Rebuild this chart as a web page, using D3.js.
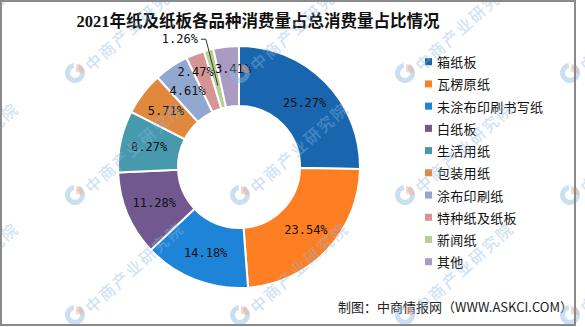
<!DOCTYPE html>
<html>
<head>
<meta charset="utf-8">
<script src="https://cdn.jsdelivr.net/npm/d3@7"></script>
<style>
  html, body { margin: 0; padding: 0; background: #fff; }
  svg { display: block; }
</style>
</head>
<body>
<svg id="chart" width="585" height="327"></svg>
<script>
// Paper and board consumption by grade, 2021 (share of total, %)
const categories = ["箱纸板", "瓦楞原纸", "未涂布印刷书写纸", "白纸板", "生活用纸",
                    "包装用纸", "涂布印刷纸", "特种纸及纸板", "新闻纸", "其他"];
const shares = [25.27, 23.54, 14.18, 11.28, 8.27, 5.71, 4.61, 2.47, 1.26, 3.41];
const palette = ["#1a66ae", "#fe7f23", "#1d84d7", "#715990", "#4799ae",
                 "#e0883b", "#91a8d0", "#d69494", "#b8ce93", "#a99bc1"];
const titleText = "2021年纸及纸板各品种消费量占总消费量占比情况";
const sourceText = "制图：中商情报网（WWW.ASKCI.COM）";
const watermarkText = "中商产业研究院";

const W = 585, H = 327;
const svg = d3.select("#chart");

svg.append("rect").attr("width", W).attr("height", H).attr("fill", "#fff");

// donut geometry
const cx = 239, cy = 167, rOuter = 121, rInner = 61, rLabel = 92;

const data = categories.map((c, i) => ({ name: c, value: shares[i] }));
const color = d3.scaleOrdinal().domain(categories).range(palette);

const pie = d3.pie().sort(null).value(d => d.value)
  .startAngle(0).endAngle(2 * Math.PI);
const arcs = pie(data);

const arc = d3.arc().innerRadius(rInner).outerRadius(rOuter);
const labelArc = d3.arc().innerRadius(rLabel).outerRadius(rLabel);

const g = svg.append("g").attr("transform", `translate(${cx},${cy})`);

g.selectAll("path.slice").data(arcs).join("path")
  .attr("class", "slice")
  .attr("d", arc)
  .attr("fill", d => color(d.data.name))
  .attr("stroke", "#fff")
  .attr("stroke-width", 2)
  .attr("stroke-linejoin", "round");

const fmt = v => v.toFixed(2) + "%";
const labelFont = "'DejaVu Sans Mono','Liberation Mono',monospace";

// small nudges so crowded labels do not collide
const nudge = { "特种纸及纸板": [-10, -9], "其他": [4, -7] };

const inside = arcs.filter(d => d.data.value >= 2);
const outside = arcs.filter(d => d.data.value < 2);

g.selectAll("text.inlabel").data(inside).join("text")
  .attr("class", "inlabel")
  .attr("transform", d => {
    const [x, y] = labelArc.centroid(d);
    const n = nudge[d.data.name] || [0, 0];
    return `translate(${x + n[0]},${y + n[1]})`;
  })
  .attr("text-anchor", "middle")
  .attr("dominant-baseline", "central")
  .attr("font-family", labelFont)
  .attr("font-size", 12)
  .attr("fill", "#111")
  .text(d => fmt(d.data.value));

// leader line + outside label for tiny slices
outside.forEach(d => {
  const mid = (d.startAngle + d.endAngle) / 2;
  const p = r => [r * Math.sin(mid), -r * Math.cos(mid)];
  const a = p(84), b = p(132);
  const c = [b[0] - 5, b[1]];
  g.append("polyline")
    .attr("points", [a, b, c].map(q => q.join(",")).join(" "))
    .attr("fill", "none")
    .attr("stroke", "#333")
    .attr("stroke-width", 1);
  g.append("text")
    .attr("x", c[0] - 3).attr("y", c[1])
    .attr("text-anchor", "end")
    .attr("dominant-baseline", "central")
    .attr("font-family", labelFont)
    .attr("font-size", 12)
    .attr("fill", "#111")
    .text(fmt(d.data.value));
});

// title
svg.append("text")
  .attr("x", 258).attr("y", 21)
  .attr("text-anchor", "middle")
  .attr("dominant-baseline", "central")
  .attr("font-family", "'Liberation Serif','Noto Sans CJK SC',serif")
  .attr("font-weight", "bold")
  .attr("font-size", 16.5)
  .attr("fill", "#111")
  .text(titleText);

// legend
const legendY = d3.scalePoint().domain(categories).range([61.7, 261.7]);
const legend = svg.append("g");
const item = legend.selectAll("g").data(categories).join("g")
  .attr("transform", d => `translate(425,${legendY(d)})`);
item.append("rect")
  .attr("x", 0).attr("y", -3.5).attr("width", 7).attr("height", 7)
  .attr("fill", d => color(d));
item.append("text")
  .attr("x", 12).attr("y", 0)
  .attr("dominant-baseline", "central")
  .attr("font-family", "'Noto Sans CJK SC',sans-serif")
  .attr("font-size", 13)
  .attr("letter-spacing", 0.3)
  .attr("fill", "#111")
  .text(d => d);

// source note
svg.append("text")
  .attr("x", 573).attr("y", 306)
  .attr("text-anchor", "end")
  .attr("dominant-baseline", "central")
  .attr("font-family", "'Noto Sans CJK SC',sans-serif")
  .attr("font-size", 13)
  .attr("fill", "#222")
  .text(sourceText);

// watermark tiles
const wm = svg.append("g").attr("pointer-events", "none");
const tileX = [-90, 75, 240, 405, 570];
const tileY = [73, 195, 315];
const tiles = [];
tileY.forEach(y => tileX.forEach(x => tiles.push([x, y])));
const tile = wm.selectAll("g").data(tiles).join("g")
  .attr("transform", d => `translate(${d[0]},${d[1]})`);
const logoArcBlue = d3.arc().innerRadius(5).outerRadius(10)
  .startAngle(Math.PI * 0.15).endAngle(Math.PI * 1.95);
const logoArcOrange = d3.arc().innerRadius(0).outerRadius(8)
  .startAngle(0).endAngle(Math.PI * 0.55);
tile.append("path").attr("d", logoArcBlue).attr("fill", "#8ab8e3").attr("opacity", 0.45);
tile.append("path").attr("d", logoArcOrange).attr("transform", "translate(1,-1)")
  .attr("fill", "#f3a98a").attr("opacity", 0.45);
tile.append("text")
  .attr("transform", "translate(12,-6) rotate(-42)")
  .attr("dominant-baseline", "central")
  .attr("font-family", "'Noto Sans CJK SC',sans-serif")
  .attr("font-weight", 500)
  .attr("font-size", 16)
  .attr("letter-spacing", 2)
  .attr("fill", "#8cb9e1")
  .attr("opacity", 0.4)
  .text(watermarkText);

// frame
svg.append("rect")
  .attr("x", 1).attr("y", 1).attr("width", 574).attr("height", 324)
  .attr("fill", "none").attr("stroke", "#8a8a8a").attr("stroke-width", 2);
</script>
</body>
</html>
